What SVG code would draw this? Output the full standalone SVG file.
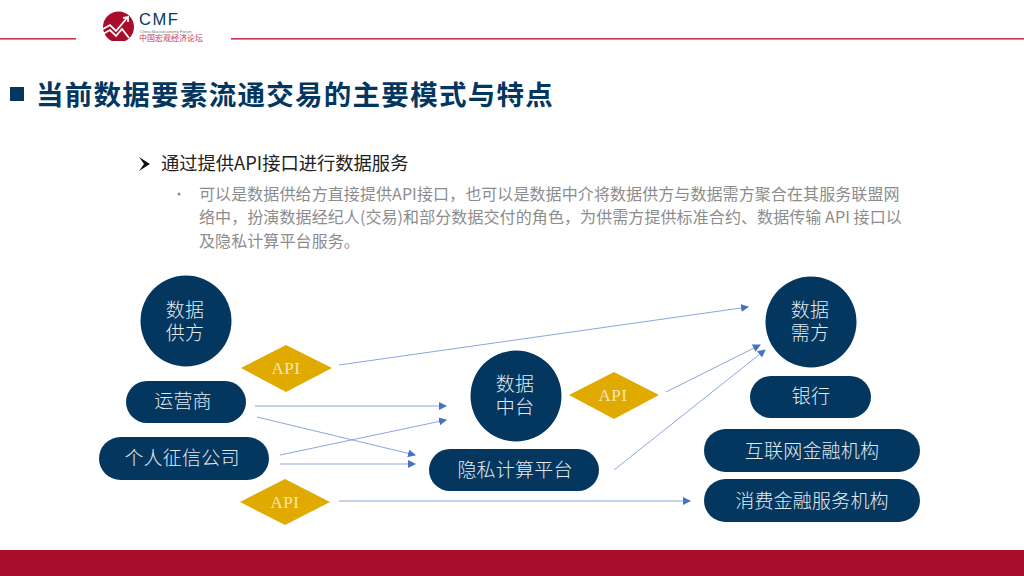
<svg xmlns="http://www.w3.org/2000/svg" width="1024" height="576" viewBox="0 0 1024 576">
<style>
text{font-family:"Noto Sans CJK SC","Noto Sans",sans-serif}
.n{fill:#03375f}
.d{fill:#e0aa00}
.w{fill:#e4eaf0;font-family:"Liberation Serif","Noto Sans CJK SC",serif;font-size:19px;text-anchor:middle;letter-spacing:.2px;font-weight:300}
.a{fill:#f5e6b8;font-family:"Liberation Serif","Noto Sans CJK SC",serif;font-size:17px;text-anchor:middle;letter-spacing:.5px}
.c{stroke:#8ca6de;stroke-width:1;fill:none;marker-end:url(#ah)}
.g{fill:#8c8c8c;font-size:16px;letter-spacing:.09px}
</style>
<defs>
<marker id="ah" viewBox="0 0 8 8" refX="7" refY="4" markerWidth="8" markerHeight="8" markerUnits="userSpaceOnUse" orient="auto"><path d="M0 0L8 4L0 8z" fill="#4472c4"/></marker>
<clipPath id="lc"><rect x="100" y="10" width="34" height="31"/></clipPath>
</defs>
<rect width="1024" height="576" fill="#fff"/>
<g id="header">
<rect x="0" y="38" width="76" height="1.6" fill="#c8374f"/>
<rect x="231" y="38" width="793" height="1.6" fill="#c8374f"/>
<g clip-path="url(#lc)"><circle cx="118.500" cy="27" r="15.500" fill="#a80d2b"/></g>
<path d="M103 29L110 25L116 31L127 18M123 18L128 17L128 22M103 34L110 30L116 36L122 29L129 38" stroke="#fff" stroke-width="1.800" fill="none"/>
<text x="139" y="25" font-size="16.500" font-weight="500" fill="#03375f" letter-spacing="1.600" style="font-family:'Liberation Sans',sans-serif">CMF</text>
<text x="140" y="32.500" font-size="4" fill="#777" style="font-family:'Liberation Sans',sans-serif">China Macroeconomy Forum</text>
<text x="139" y="40.500" font-size="8" fill="#c8374f">中国宏观经济论坛</text>
</g>
<rect x="0" y="550" width="1024" height="26" fill="#a80d2b"/>
<g id="title">
<rect x="10" y="87" width="14" height="14" fill="#03375f"/>
<text x="36" y="105" font-size="27.500" font-weight="700" fill="#03375f" letter-spacing="1.280">当前数据要素流通交易的主要模式与特点</text>
</g>
<g id="body">
<path d="M139 157L150 164L139 171L144 164z" fill="#111"/>
<text x="161" y="170" font-size="18.300" fill="#222">通过提供API接口进行数据服务</text>
<circle cx="179" cy="194" r="1.500" fill="#8c8c8c"/>
<text class="g" x="199" y="200">可以是数据供给方直接提供API接口，也可以是数据中介将数据供方与数据需方聚合在其服务联盟网</text>
<text class="g" x="199" y="223">络中，扮演数据经纪人(交易)和部分数据交付的角色，为供需方提供标准合约、数据传输 API 接口以</text>
<text class="g" x="199" y="247">及隐私计算平台服务。</text>
</g>
<g id="connectors">
<path class="c" d="M339 365L748 307"/>
<path class="c" d="M255 406L446 406"/>
<path class="c" d="M257 417L415 455"/>
<path class="c" d="M280 455L446 420"/>
<path class="c" d="M280 464L415 464"/>
<path class="c" d="M339 501L690 501"/>
<path class="c" d="M666 392L760 345"/>
<path class="c" d="M614 470L765 350"/>
</g>
<g id="supply"><circle class="n" cx="186" cy="321" r="45.500"/><text class="w" x="185" y="317">数据<tspan x="185" dy="23">供方</tspan></text></g>
<g id="api1"><path class="d" d="M286 345L332 368L286 392L241 368z"/><text class="a" x="286" y="374">API</text></g>
<g id="operator"><rect class="n" x="126" y="381" width="120" height="42" rx="21"/><text class="w" x="183" y="408">运营商</text></g>
<g id="credit"><rect class="n" x="99" y="437" width="170" height="43" rx="21.500"/><text class="w" x="182" y="465">个人征信公司</text></g>
<g id="api2"><path class="d" d="M285 479L330 502L285 525L240 502z"/><text class="a" x="285" y="508">API</text></g>
<g id="hub"><circle class="n" cx="516" cy="396" r="45.500"/><text class="w" x="515" y="391">数据<tspan x="515" dy="23">中台</tspan></text></g>
<g id="privacy"><rect class="n" x="429" y="449" width="170" height="42" rx="21"/><text class="w" x="515" y="477">隐私计算平台</text></g>
<g id="api3"><path class="d" d="M614 372L659 395L614 419L569 395z"/><text class="a" x="613" y="401">API</text></g>
<g id="demand"><circle class="n" cx="811" cy="322" r="45.500"/><text class="w" x="810" y="317">数据<tspan x="810" dy="23">需方</tspan></text></g>
<g id="bank"><rect class="n" x="750" y="376" width="121" height="42" rx="21"/><text class="w" x="811" y="403">银行</text></g>
<g id="internet"><rect class="n" x="704" y="429" width="216" height="43" rx="21.500"/><text class="w" x="812" y="458">互联网金融机构</text></g>
<g id="consumer"><rect class="n" x="704" y="479" width="216" height="43" rx="21.500"/><text class="w" x="812" y="508">消费金融服务机构</text></g>
</svg>
